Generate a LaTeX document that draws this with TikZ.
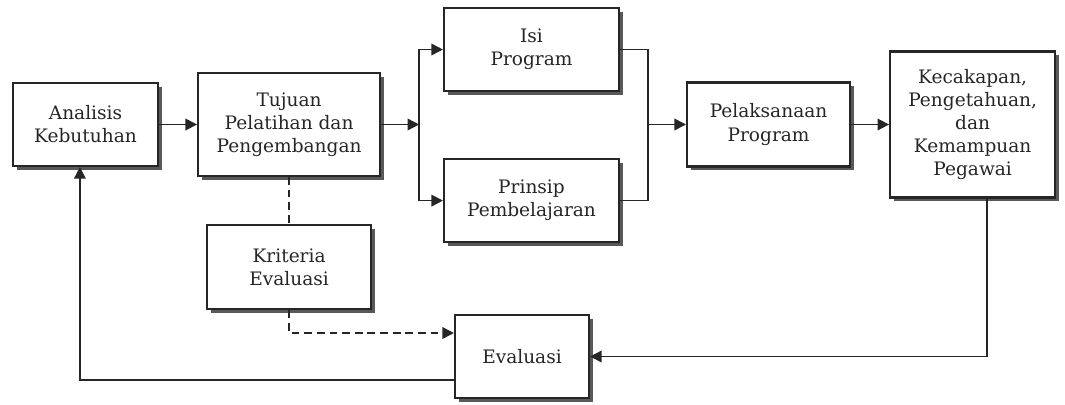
\documentclass[tikz,border=0pt]{standalone}
\usepackage{fontspec}
\setmainfont{DejaVu Serif}
\usepackage{tikz}
\usetikzlibrary{positioning,arrows.meta,shadows,calc}

\begin{document}
\begin{tikzpicture}[
    node distance=0.95cm and 0.95cm,
    box/.style={rectangle, draw=black!85, fill=white, line width=1.5pt, align=center,
                font=\fontsize{13.2}{16.4}\selectfont, text=black!85,
                drop shadow={shadow xshift=2.6pt, shadow yshift=-2.6pt, fill=black!65, opacity=1}},
    arrow/.style={-{Triangle[length=2.9mm, width=2.9mm]}, line width=1.2pt, draw=black!85},
    link/.style={line width=1.2pt, draw=black!85},
    dasharrow/.style={arrow, dash pattern=on 5.5pt off 3.5pt},
    dashlink/.style={link, dash pattern=on 5.5pt off 3.5pt},
]
\useasboundingbox (0,0) rectangle (26.625,-10.1);

% Main row
\node[box, minimum width=3.625cm, minimum height=2.075cm] (analisis) at (2.1375,-3.1125) {Analisis\\Kebutuhan};
\node[box, minimum width=4.55cm, minimum height=2.575cm, right=0.95cm of analisis] (tujuan) {Tujuan\\Pelatihan dan\\Pengembangan};
\coordinate[right=0.95cm of tujuan] (split);

% Program content
\node[box, minimum width=4.375cm, minimum height=2.075cm] (isi) at (13.2875,-1.2375) {Isi\\Program};
\node[box, minimum width=4.375cm, minimum height=2.075cm, below=1.65cm of isi] (prinsip) {Prinsip\\Pembelajaran};
\coordinate (merge) at (16.2,-3.1125);

\node[box, minimum width=4.075cm, minimum height=2.1cm, right=0.95cm of merge] (pelaksanaan) {Pelaksanaan\\Program};
\node[box, minimum width=4.125cm, minimum height=3.65cm, right=0.95cm of pelaksanaan] (kecakapan) {Kecakapan,\\Pengetahuan,\\dan\\Kemampuan\\Pegawai};

% Evaluation
\node[box, minimum width=4.1cm, minimum height=2.1cm, below=1.175cm of tujuan] (kriteria) {Kriteria\\Evaluasi};
\node[box, minimum width=3.35cm, minimum height=2.075cm] (evaluasi) at (13.05,-8.9125) {Evaluasi};

% Arrows - main flow
\draw[arrow] (analisis) -- (tujuan);
\draw[arrow] (tujuan) -- (split);
\draw[arrow] (split) |- (isi);
\draw[arrow] (split) |- (prinsip);
\draw[link] (isi) -| (merge);
\draw[link] (prinsip) -| (merge);
\draw[arrow] (merge) -- (pelaksanaan);
\draw[arrow] (pelaksanaan) -- (kecakapan);

% Arrows - feedback loop
\draw[arrow] ([xshift=0.3625cm]kecakapan.south) |- (evaluasi);
\draw[arrow] ([yshift=-0.5875cm]evaluasi.west) -| ([xshift=-0.14cm]analisis.south);

% Arrows - evaluation criteria
\draw[dashlink] (tujuan) -- (kriteria);
\draw[dasharrow] (kriteria) |- ([yshift=0.5875cm]evaluasi.west);
\end{tikzpicture}
\end{document}
